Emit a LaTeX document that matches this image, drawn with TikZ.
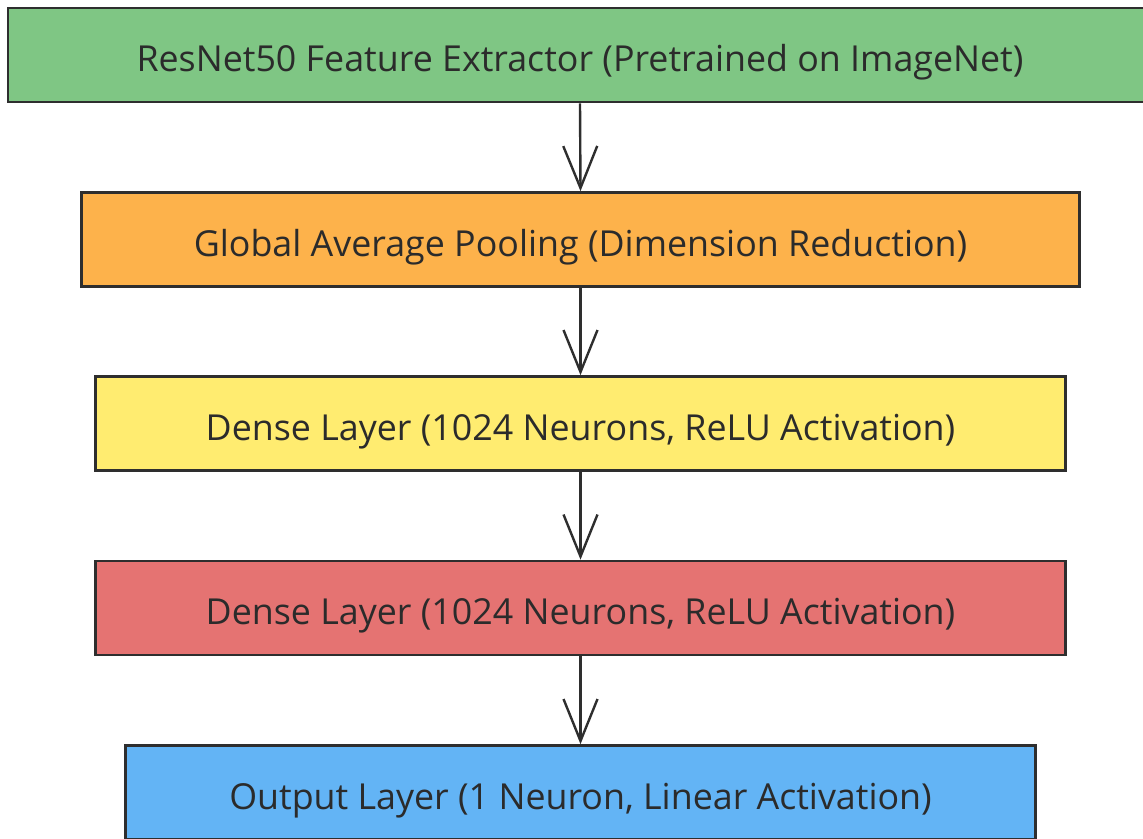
\documentclass[tikz,border=0pt]{standalone}
\usepackage{fontspec}
\setmainfont{Open Sans}
\usetikzlibrary{arrows.meta}
\definecolor{boxline}{HTML}{2E2E2E}
\definecolor{txt}{HTML}{2B2B2B}
\definecolor{cgreen}{HTML}{7FC684}
\definecolor{corange}{HTML}{FDB24B}
\definecolor{cyellow}{HTML}{FFEC70}
\definecolor{cred}{HTML}{E57372}
\definecolor{cblue}{HTML}{63B4F5}
\begin{document}
\begin{tikzpicture}[x=1pt,y=-1pt,
  layer/.style={draw=boxline, line width=2.6pt, minimum height=94pt,
    inner sep=0pt, text=txt, font=\fontsize{35.8}{40}\selectfont,
    text height=39pt, text depth=6pt},
  flow/.style={draw=boxline, line width=2.4pt,
    -{Straight Barb[length=42pt,width=34pt,line width=2.4pt]}}]
  \useasboundingbox (0,0) rectangle (1143,838);
  \clip (0,0) rectangle (1143,838);
  \node[layer, fill=cgreen,  minimum width=1144pt] (res)  at (580,55)
    {ResNet50 Feature Extractor (Pretrained on ImageNet)};
  \node[layer, fill=corange, minimum width=998pt]  (gap)  at (580.5,239.5)
    {Global Average Pooling (Dimension Reduction)};
  \node[layer, fill=cyellow, minimum width=970pt]  (d1)   at (580.5,423.5)
    {Dense Layer (1024 Neurons, ReLU Activation)};
  \node[layer, fill=cred,    minimum width=970pt]  (d2)   at (580.5,608)
    {Dense Layer (1024 Neurons, ReLU Activation)};
  \node[layer, fill=cblue,   minimum width=910pt]  (out)  at (580.5,792.5)
    {Output Layer (1 Neuron, Linear Activation)};
  \draw[flow] (res.south) -- (gap.north);
  \draw[flow] (gap.south) -- (d1.north);
  \draw[flow] (d1.south) -- (d2.north);
  \draw[flow] (d2.south) -- (out.north);
\end{tikzpicture}
\end{document}
